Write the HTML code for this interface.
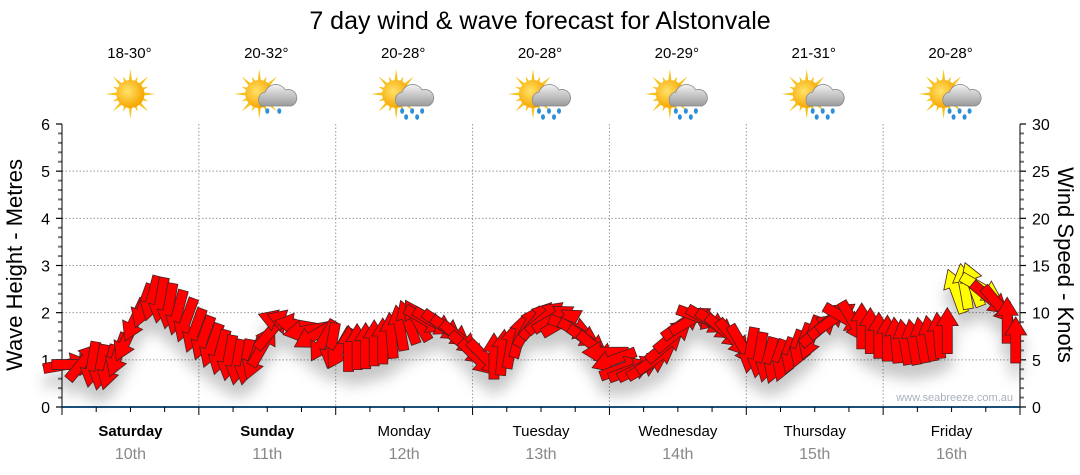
<!DOCTYPE html>
<html><head><meta charset="utf-8"><style>
body{margin:0;background:#fff;}
svg{display:block;font-family:"Liberation Sans",sans-serif;}
</style></head><body>
<svg id="chart" width="1080" height="475" viewBox="0 0 1080 475">
<defs>
<radialGradient id="sunG" cx="40%" cy="40%" r="60%"><stop offset="0" stop-color="#ffe36a"/><stop offset="1" stop-color="#f7a600"/></radialGradient>
<linearGradient id="cloudG" x1="0" y1="0" x2="0" y2="1"><stop offset="0" stop-color="#f2f2f2"/><stop offset="1" stop-color="#9a9a9a"/></linearGradient>
<filter id="shadow" x="-20%" y="-20%" width="140%" height="160%"><feDropShadow dx="0" dy="14" stdDeviation="7" flood-color="#000" flood-opacity="0.22"/></filter>
</defs>
<text x="540" y="29" font-size="25" text-anchor="middle" fill="#000">7 day wind &amp; wave forecast for Alstonvale</text>
<g id="grid"></g>
<g id="axes"></g>
<g id="icons"></g>
<g id="arrows" filter="url(#shadow)"></g>
<text x="1013" y="401" font-size="11" fill="#a9b0bd" text-anchor="end">www.seabreeze.com.au</text>
<text transform="translate(22,265) rotate(-90)" font-size="22" text-anchor="middle">Wave Height - Metres</text>
<text transform="translate(1058,265) rotate(90)" font-size="22" text-anchor="middle">Wind Speed - Knots</text>
</svg>
<script>
const days = ["Saturday","Sunday","Monday","Tuesday","Wednesday","Thursday","Friday"];
const dates = ["10th","11th","12th","13th","14th","15th","16th"];
const temps = ["18-30°","20-32°","20-28°","20-28°","20-29°","21-31°","20-28°"];
const iconTypes = ["sun","cloud","rain","rain","rain","rain","rain"];
const waveTicks = [0,1,2,3,4,5,6];
const windTicks = [0,5,10,15,20,25,30];
const windSpeed = [
4.5,4.5,4.8,4.5,4.2,4.2,5.5,7.1,9.2,10.7,11.5,11.3,10.7,10.0,9.2,8.1,
7.3,6.5,5.8,5.2,4.75,4.75,5.2,6.5,8.1,9.0,9.0,8.7,8.1,7.6,7.0,6.5,
6.2,6.2,6.4,6.5,6.8,7.0,7.6,8.4,9.0,9.2,9.2,9.0,8.6,8.0,7.3,6.2,
5.2,5.2,5.4,5.8,6.5,7.6,8.6,9.2,9.5,9.4,9.0,8.5,7.8,7.0,6.2,5.8,
5.0,4.1,3.9,4.1,4.4,5.2,6.5,7.6,8.8,9.2,9.5,9.2,8.7,8.0,7.3,6.5,
6.0,5.5,5.0,4.8,5.0,5.8,6.5,7.3,8.2,9.0,9.5,9.4,9.0,8.6,8.1,7.6,
7.3,7.1,6.9,6.9,7.1,7.3,7.6,8.1,12.3,12.8,13.0,12.6,11.5,10.8,9.2,7.1];
const windDir = [
-10,0,-50,100,100,105,110,115,115,110,105,100,100,105,110,110,
110,110,105,100,100,100,110,-60,-50,200,200,190,170,150,120,100,
120,-90,-90,-90,-90,-90,-95,-100,-110,-120,30,30,35,35,40,40,
45,45,-90,-85,-80,-75,-60,-50,-40,-30,-30,20,30,35,40,180,
160,-20,-20,-25,-30,-35,-40,-40,-35,-30,20,30,35,40,50,60,
100,100,105,110,110,110,110,110,-40,-40,-35,30,60,-90,-90,-90,
-90,-95,-100,-100,-100,-100,-95,-90,-110,-100,-110,30,40,50,-90,-90];

const NS="http://www.w3.org/2000/svg";
const X0=62,X1=1020,Y0=407,Y1=124;
const dayW=(X1-X0)/7;
const perDay=windSpeed.length/7;
const yWave=v=>Y0-(v/6)*(Y0-Y1);
const yWind=v=>Y0-(v/30)*(Y0-Y1);
const xSlot=i=>X0+(i+0.5)*dayW/perDay;
function mk(tag,attrs,parent){const e=document.createElementNS(NS,tag);for(const k in attrs)e.setAttribute(k,attrs[k]);parent.appendChild(e);return e;}
const grid=document.getElementById('grid'),axes=document.getElementById('axes'),icons=document.getElementById('icons'),arrows=document.getElementById('arrows');

waveTicks.forEach(v=>{
  if(v>0&&v<6){const l=mk('line',{x1:X0,x2:X1,y1:yWave(v),y2:yWave(v),stroke:'#999','stroke-dasharray':'1.5,2','stroke-width':1},grid);
  
  }
  const t=mk('text',{x:X0-12,y:yWave(v)+6,'font-size':16,'text-anchor':'end',fill:'#000'},axes);t.textContent=v;
  
  
});
for(let i=0;i<=30;i++){const y=Y0-i*(Y0-Y1)/30;mk('line',{x1:X0-(i%5==0?6:4),x2:X0,y1:y,y2:y,stroke:i%5==0?'#000':'#777','stroke-width':i%5==0?1.2:2},axes);}
windTicks.forEach(v=>{
  const t=mk('text',{x:X1+12,y:yWind(v)+6,'font-size':16,fill:'#000'},axes);t.textContent=v;
  
  
});
for(let i=0;i<=30;i++){const y=Y0-i*(Y0-Y1)/30;mk('line',{x1:X1,x2:X1+(i%5==0?6:4),y1:y,y2:y,stroke:i%5==0?'#000':'#777','stroke-width':i%5==0?1.2:2},axes);}
mk('line',{x1:X0,x2:X0,y1:Y1,y2:Y0,stroke:'#000','stroke-width':1},axes);
mk('line',{x1:X1,x2:X1,y1:Y1,y2:Y0,stroke:'#000','stroke-width':1},axes);
mk('line',{x1:X0,x2:X1,y1:Y0,y2:Y0,stroke:'#1a4f7a','stroke-width':2},axes);
for(let i=0;i<=28;i++){const x=X0+i*dayW/4;mk('line',{x1:x,x2:x,y1:Y0,y2:Y0+(i%4==0?8:5),stroke:'#000','stroke-width':1},axes);}

days.forEach((d,i)=>{
  const cx=X0+(i+0.5)*dayW;
  if(i>0){const l=mk('line',{x1:X0+i*dayW,x2:X0+i*dayW,y1:Y1,y2:Y0,stroke:'#999','stroke-dasharray':'1.5,2'},grid);
  
  }
  const t=mk('text',{x:cx,y:436,'font-size':15,'text-anchor':'middle','font-weight':i<2?'bold':'normal'},axes);t.textContent=d;
  
  
  const t2=mk('text',{x:cx,y:459,'font-size':16,'text-anchor':'middle',fill:'#888'},axes);t2.textContent=dates[i];
  
  
  const t3=mk('text',{x:cx-1,y:58,'font-size':15,'text-anchor':'middle'},icons);t3.textContent=temps[i];
  
  
  const g=mk('g',{transform:`translate(${cx},96)`},icons);
  
  
  const sx=iconTypes[i]=='sun'?0:-8;
  for(let k=0;k<16;k++){const a=k*Math.PI/8,r=k%2?19:25;
    mk('polygon',{points:`${sx+Math.cos(a)*r},${-2+Math.sin(a)*r} ${sx+Math.cos(a+0.15)*12},${-2+Math.sin(a+0.15)*12} ${sx+Math.cos(a-0.15)*12},${-2+Math.sin(a-0.15)*12}`,fill:'#f6c21c'},g);}
  mk('circle',{cx:sx,cy:-2,r:14,fill:'url(#sunG)'},g);
  if(iconTypes[i]!='sun'){
    mk('path',{d:'M-6,10 a8,8 0 0 1 4,-14 a11,11 0 0 1 20,-2 a8,8 0 0 1 6,16 z',fill:'url(#cloudG)',stroke:'#888','stroke-width':0.8},g);
    const drops=iconTypes[i]=='cloud'?[[0,15],[12,15]]:[[-2,15],[8,15],[18,15],[2,21],[13,21]];
    drops.forEach(p=>mk('ellipse',{cx:p[0],cy:p[1],rx:2,ry:2.8,fill:'#2c8fd8'},g));
  }
});

windSpeed.forEach((v,i)=>{
  const x=xSlot(i),y=yWind(v);
  const p=mk('polygon',{points:'-23,-5 5,-5 5,-11 23,0 5,11 5,5 -23,5',transform:`translate(${x},${y}) rotate(${windDir[i]})`,fill:v>=12?'#ffff00':'#ff0000',stroke:'#4a2020','stroke-width':0.8},arrows);
  
  
});
</script>
</body></html>
